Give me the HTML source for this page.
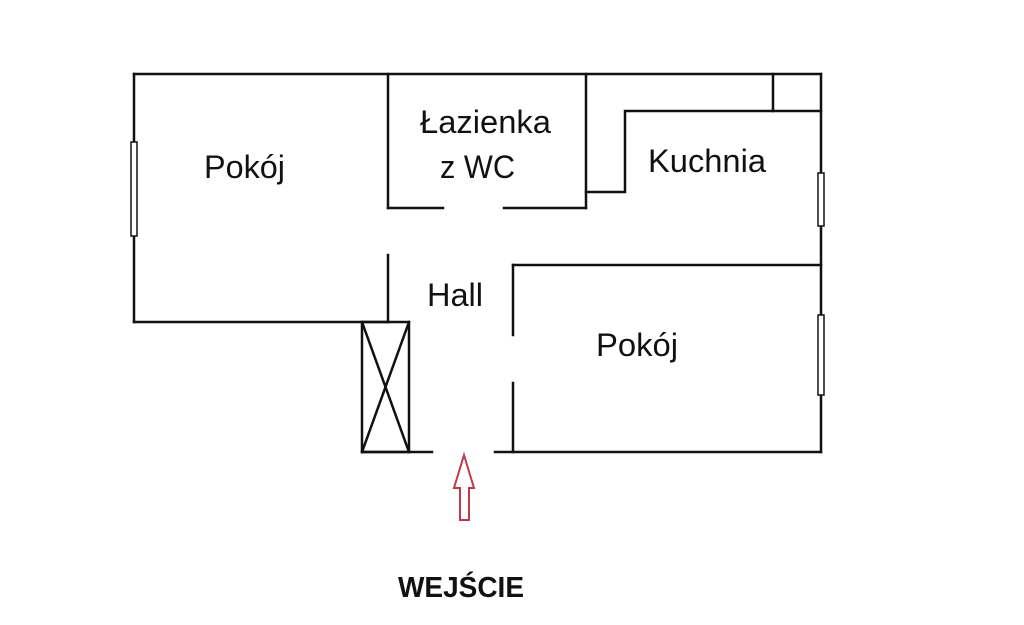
<!DOCTYPE html>
<html><head><meta charset="utf-8"><style>
html,body{margin:0;padding:0;background:#fff;}
svg{display:block}
text{font-family:"Liberation Sans",sans-serif;fill:#111;}
</style></head><body>
<svg width="1024" height="625" viewBox="0 0 1024 625" xmlns="http://www.w3.org/2000/svg">
<g stroke="#111" stroke-width="2.5" fill="none" stroke-linecap="square">
<line x1="134" y1="74" x2="821" y2="74"/>
<line x1="134" y1="74" x2="134" y2="322"/>
<line x1="134" y1="322" x2="388" y2="322"/>
<line x1="821" y1="74" x2="821" y2="452"/>
<line x1="388" y1="74" x2="388" y2="208"/>
<line x1="388" y1="208" x2="443" y2="208"/>
<line x1="504" y1="208" x2="586" y2="208"/>
<line x1="586" y1="74" x2="586" y2="208"/>
<polyline points="586,192 625,192 625,111 821,111"/>
<line x1="773" y1="74" x2="773" y2="111"/>
<line x1="388" y1="255" x2="388" y2="322"/>
<rect x="362" y="322" width="47" height="130"/>
<line x1="362" y1="322" x2="409" y2="452"/>
<line x1="409" y1="322" x2="362" y2="452"/>
<line x1="362" y1="452" x2="432" y2="452"/>
<line x1="495" y1="452" x2="821" y2="452"/>
<line x1="513" y1="265" x2="821" y2="265"/>
<line x1="513" y1="265" x2="513" y2="335"/>
<line x1="513" y1="383" x2="513" y2="452"/>
</g>
<g stroke="#111" stroke-width="1.5" fill="#fff">
<rect x="131" y="142" width="6" height="94"/>
<rect x="818" y="173" width="6" height="53"/>
<rect x="818" y="315" width="6" height="80"/>
</g>
<polygon points="464,455 474,488 469,488 469,520 460,520 460,488 454,488" fill="none" stroke="#c0394a" stroke-width="2"/>
<text x="204" y="178" font-size="32" textLength="81" lengthAdjust="spacingAndGlyphs">Pokój</text>
<text x="420" y="133" font-size="32" textLength="131" lengthAdjust="spacingAndGlyphs">Łazienka</text>
<text x="440" y="178" font-size="32" textLength="75" lengthAdjust="spacingAndGlyphs">z WC</text>
<text x="648" y="172" font-size="32" textLength="118" lengthAdjust="spacingAndGlyphs">Kuchnia</text>
<text x="427" y="306" font-size="32" textLength="56" lengthAdjust="spacingAndGlyphs">Hall</text>
<text x="596" y="356" font-size="32" textLength="82" lengthAdjust="spacingAndGlyphs">Pokój</text>
<text x="398" y="597" font-size="29" font-weight="bold" textLength="126" lengthAdjust="spacingAndGlyphs">WEJŚCIE</text>
</svg>
</body></html>
